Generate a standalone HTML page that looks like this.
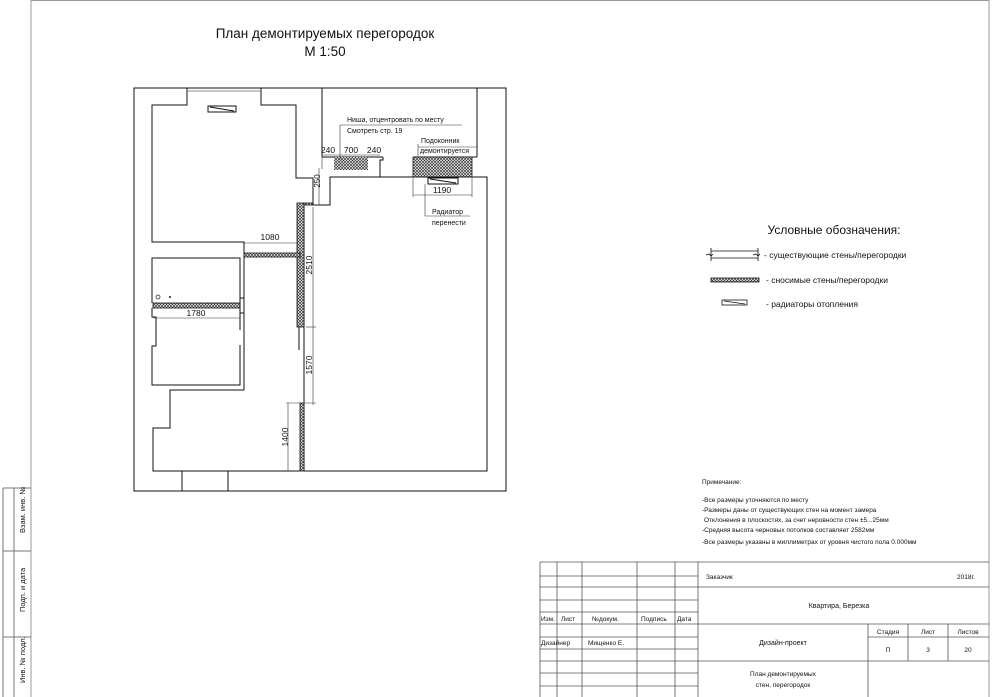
<!DOCTYPE html>
<html><head><meta charset="utf-8"><style>
html,body{margin:0;padding:0;background:#fff;}
svg{display:block;}
text{font-family:"Liberation Sans","DejaVu Sans",sans-serif;fill:#111;}
</style></head><body>
<svg width="994" height="697" viewBox="0 0 994 697" xmlns="http://www.w3.org/2000/svg">
<defs>
<pattern id="h" width="3" height="3" patternUnits="userSpaceOnUse">
<rect width="3" height="3" fill="#fff"/>
<path d="M0,0L3,3M3,0L0,3" stroke="#333" stroke-width="0.7"/>
</pattern>
</defs>
<g fill="none" stroke="#999" stroke-width="1">
<line x1="31" y1="0.5" x2="989" y2="0.5"/>
<line x1="31" y1="0" x2="31" y2="697"/>
<line x1="989" y1="0" x2="989" y2="697"/>
</g>
<!-- left strip -->
<g fill="none" stroke="#777" stroke-width="1">
<line x1="3" y1="488" x2="3" y2="697"/>
<line x1="14" y1="488" x2="14" y2="697"/>
<line x1="3" y1="488" x2="31" y2="488"/>
<line x1="3" y1="551" x2="31" y2="551"/>
<line x1="3" y1="637" x2="31" y2="637"/>
</g>
<g font-size="7.5">
<text transform="translate(25,533) rotate(-90)">Взам. инв. №</text>
<text transform="translate(25,612) rotate(-90)">Подп. и дата</text>
<text transform="translate(25,683) rotate(-90)">Инв. № подл.</text>
</g>
<!-- title -->
<text x="325" y="38" font-size="13.5" text-anchor="middle">План демонтируемых перегородок</text>
<text x="325" y="56" font-size="13.5" text-anchor="middle">М 1:50</text>
<!-- plan -->
<g fill="none" stroke="#111" stroke-width="1">
<rect x="134" y="88" width="372" height="403"/>
<polyline points="187,88 187,105 152,105 152,242 244,242 244,257"/>
<polyline points="261,88 261,105 296,105 296,178 313,178 313,205 330,205 330,177 487,177 487,471 304,471 304,205"/>
<line x1="187" y1="91" x2="261" y2="91" stroke="#888"/>
<line x1="322" y1="88" x2="322" y2="157"/>
<line x1="477" y1="88" x2="477" y2="157"/>
<line x1="322" y1="157" x2="383" y2="157"/>
<polyline points="383,157 383,160 380,160 380,177"/>
<line x1="413" y1="157" x2="477" y2="157"/>
<rect x="208" y="106" width="28" height="6"/>
<line x1="210" y1="107" x2="234" y2="111"/>
<rect x="428" y="178" width="30" height="6"/>
<line x1="430" y1="179" x2="456" y2="183"/>
<!-- middle left room -->
<polyline points="240,303 240,258 152,258 152,303"/>
<polyline points="152,308 152,317 156,317 156,346 152,346 152,385 240,385 240,345"/>
<line x1="240" y1="308" x2="240" y2="330"/>
<line x1="244" y1="257" x2="244" y2="298"/>
<line x1="244" y1="313" x2="244" y2="390"/>
<rect x="240" y="298" width="4" height="15"/>
<polyline points="244,390 170,390 170,428 153,428 153,471 300,471"/>
<line x1="182" y1="471" x2="182" y2="491"/>
<line x1="228" y1="471" x2="228" y2="491"/>
<line x1="299" y1="327" x2="299" y2="350"/>
<circle cx="158" cy="297" r="2" stroke-width="0.7"/>
<circle cx="170" cy="297" r="0.8" stroke-width="0.6"/>
</g>
<!-- hatched demolished -->
<g stroke="#111" stroke-width="0.8" fill="url(#h)">
<rect x="297" y="203" width="7" height="124"/>
<rect x="244" y="253" width="56" height="4"/>
<rect x="153" y="303" width="87" height="5"/>
<rect x="300" y="403" width="4" height="68"/>
<rect x="334" y="157" width="34" height="13" stroke="none"/>
<rect x="413" y="157" width="59" height="20"/>
<rect x="304" y="203" width="9" height="2"/>
</g>
<!-- dimension lines -->
<g stroke="#333" stroke-width="0.6" fill="none">
<line x1="244" y1="243" x2="297" y2="243"/>
<line x1="153" y1="318" x2="240" y2="318"/>
<line x1="313" y1="207" x2="313" y2="405"/>
<line x1="306" y1="327" x2="316" y2="327"/>
<line x1="288" y1="403" x2="288" y2="471"/>
<line x1="286" y1="403" x2="316" y2="403"/>
<line x1="322" y1="155" x2="380" y2="155"/>
<line x1="322" y1="155" x2="322" y2="169"/>
<line x1="340" y1="125" x2="340" y2="160"/>
<line x1="340" y1="125" x2="462" y2="125"/>
<line x1="418" y1="147" x2="477" y2="147"/>
<line x1="418" y1="144" x2="418" y2="157"/>
<line x1="413" y1="178" x2="413" y2="197"/>
<line x1="472" y1="178" x2="472" y2="197"/>
<line x1="413" y1="195" x2="472" y2="195"/>
<line x1="425" y1="184" x2="425" y2="216"/>
<line x1="425" y1="216" x2="470" y2="216"/>
<line x1="319" y1="168" x2="319" y2="205"/>
</g>
<g font-size="8.5">
<text x="270" y="240" text-anchor="middle">1080</text>
<text x="196" y="316" text-anchor="middle">1780</text>
<text transform="translate(312,265) rotate(-90)" text-anchor="middle">2510</text>
<text transform="translate(312,365) rotate(-90)" text-anchor="middle">1570</text>
<text transform="translate(288,437) rotate(-90)" text-anchor="middle">1400</text>
<text transform="translate(320,181) rotate(-90)" text-anchor="middle" font-size="8">250</text>
<text x="328" y="153" text-anchor="middle">240</text>
<text x="351" y="153" text-anchor="middle">700</text>
<text x="374" y="153" text-anchor="middle">240</text>
<text x="442" y="193" text-anchor="middle">1190</text>
</g>
<g font-size="7">
<text x="347" y="122">Ниша, отцентровать по месту</text>
<text x="347" y="133">Смотреть стр. 19</text>
<text x="421" y="143">Подоконник</text>
<text x="420" y="153">демонтируется</text>
<text x="432" y="214">Радиатор</text>
<text x="432" y="225">перенести</text>
</g>
<!-- legend -->
<text x="834" y="234" font-size="12" text-anchor="middle">Условные обозначения:</text>
<g stroke="#111" stroke-width="0.8" fill="none">
<line x1="711" y1="251" x2="758" y2="251"/>
<line x1="711" y1="258" x2="758" y2="258"/>
<path d="M711,248V261M758,248V261M706,255l3,-1 2,2 2,-2M753,255l3,-1 2,2 2,-2"/>
<rect x="711" y="278" width="48" height="4" fill="url(#h)"/>
<rect x="722" y="300" width="25" height="5"/>
<line x1="724" y1="301" x2="745" y2="304"/>
</g>
<g font-size="8.5">
<text x="764" y="258">- существующие стены/перегородки</text>
<text x="766" y="283">- сносимые стены/перегородки</text>
<text x="766" y="307">- радиаторы отопления</text>
</g>
<g font-size="6.5">
<text x="702" y="484">Примечание:</text>
<text x="702" y="502">-Все размеры уточняются по месту</text>
<text x="702" y="512">-Размеры даны от существующих стен на момент замера</text>
<text x="704" y="522">Отклонения в плоскостях, за счет неровности стен ±5...25мм</text>
<text x="702" y="532">-Средняя высота черновых потолков составляет 2582мм</text>
<text x="702" y="544">-Все размеры указаны в миллиметрах от уровня чистого пола 0.000мм</text>
</g>
<!-- title block -->
<g stroke="#555" stroke-width="0.8" fill="none">
<line x1="540" y1="562" x2="989" y2="562"/>
<line x1="540" y1="562" x2="540" y2="697"/>
<line x1="557" y1="562" x2="557" y2="697"/>
<line x1="582" y1="562" x2="582" y2="697"/>
<line x1="637" y1="562" x2="637" y2="697"/>
<line x1="675" y1="562" x2="675" y2="697"/>
<line x1="698" y1="562" x2="698" y2="697"/>
<line x1="540" y1="576" x2="698" y2="576"/>
<line x1="540" y1="587" x2="989" y2="587"/>
<line x1="540" y1="600" x2="698" y2="600"/>
<line x1="540" y1="612" x2="698" y2="612"/>
<line x1="540" y1="624" x2="989" y2="624"/>
<line x1="540" y1="637" x2="698" y2="637"/>
<line x1="540" y1="649" x2="698" y2="649"/>
<line x1="540" y1="661" x2="989" y2="661"/>
<line x1="540" y1="673" x2="698" y2="673"/>
<line x1="540" y1="686" x2="698" y2="686"/>
<line x1="868" y1="624" x2="868" y2="697"/>
<line x1="908" y1="624" x2="908" y2="661"/>
<line x1="948" y1="624" x2="948" y2="661"/>
<line x1="868" y1="637" x2="989" y2="637"/>
</g>
<g font-size="6.5">
<text x="541" y="621">Изм.</text>
<text x="561" y="621">Лист</text>
<text x="592" y="621">№докум.</text>
<text x="641" y="621">Подпись</text>
<text x="677" y="621">Дата</text>
<text x="541" y="645">Дизайнер</text>
<text x="588" y="645">Мищенко Е.</text>
<text x="706" y="579">Заказчик</text>
<text x="957" y="579">2018г.</text>
<text x="839" y="608" text-anchor="middle" font-size="7">Квартира, Березка</text>
<text x="783" y="645" text-anchor="middle" font-size="7">Дизайн-проект</text>
<text x="888" y="634" text-anchor="middle">Стадия</text>
<text x="928" y="634" text-anchor="middle">Лист</text>
<text x="968" y="634" text-anchor="middle">Листов</text>
<text x="888" y="652" text-anchor="middle">П</text>
<text x="928" y="652" text-anchor="middle">3</text>
<text x="968" y="652" text-anchor="middle">20</text>
<text x="783" y="676" text-anchor="middle">План демонтируемых</text>
<text x="783" y="687" text-anchor="middle">стен, перегородок</text>
</g>
</svg>
</body></html>
